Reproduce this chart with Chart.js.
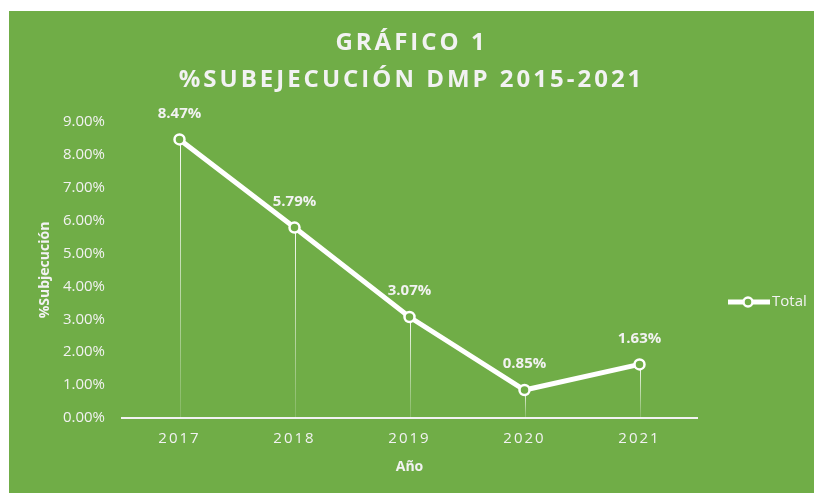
<!DOCTYPE html>
<html>
<head>
<meta charset="utf-8">
<script src="https://cdn.jsdelivr.net/npm/chart.js@4.4.1/dist/chart.umd.min.js"></script>
<style>
  html, body { margin: 0; padding: 0; background: #ffffff; }
  #wrap { position: absolute; left: 9px; top: 11px; width: 805px; height: 482px; background: #70ad47; }
</style>
</head>
<body>
<div id="wrap"><canvas id="chart" width="805" height="482"></canvas></div>
<script>
// data
const years = ['2017', '2018', '2019', '2020', '2021'];
const subejecucion = [0.0847, 0.0579, 0.0307, 0.0085, 0.0163];
const seriesName = 'Total';

const GREEN = '#70ad47';
const TEXT = '#f2f2f2';
const FONT = '"Open Sans", "Noto Sans", sans-serif';

function pct(v) {
    return (v * 100).toFixed(2) + '%';
}

// run a draw function with some letter spacing (Excel title / category labels are spaced out)
function spaced(obj, name, spacing) {
    const orig = obj[name];
    obj[name] = function () {
        const ctx = this.ctx || this.chart.ctx;
        ctx.save();
        ctx.letterSpacing = spacing;
        orig.apply(this, arguments);
        ctx.restore();
    };
}

const letterSpacing = {
    id: 'letterSpacing',
    beforeDraw(chart) {
        if (chart._spacedDone) return;
        chart._spacedDone = true;
        if (chart.titleBlock) spaced(chart.titleBlock, 'draw', '3px');
        spaced(chart.scales.x, 'drawLabels', '2px');
    }
};

// thin fading lines from each point down to the category axis (Excel "drop lines")
const dropLines = {
    id: 'dropLines',
    beforeDatasetsDraw(chart) {
        const ctx = chart.ctx;
        const bottom = chart.scales.y.getPixelForValue(0);
        chart.getDatasetMeta(0).data.forEach(pt => {
            const grad = ctx.createLinearGradient(0, pt.y, 0, bottom);
            grad.addColorStop(0, 'rgba(255,255,255,0.95)');
            grad.addColorStop(1, 'rgba(255,255,255,0.15)');
            ctx.save();
            ctx.strokeStyle = grad;
            ctx.lineWidth = 1;
            ctx.beginPath();
            ctx.moveTo(Math.round(pt.x) + 0.5, pt.y);
            ctx.lineTo(Math.round(pt.x) + 0.5, bottom);
            ctx.stroke();
            ctx.restore();
        });
    }
};

// value labels above each point
const valueLabels = {
    id: 'valueLabels',
    afterDatasetsDraw(chart) {
        const ctx = chart.ctx;
        const values = chart.data.datasets[0].data;
        ctx.save();
        ctx.fillStyle = TEXT;
        ctx.font = 'bold 15px ' + FONT;
        ctx.textAlign = 'center';
        ctx.textBaseline = 'middle';
        chart.getDatasetMeta(0).data.forEach((pt, i) => {
            ctx.fillText(pct(values[i]), pt.x, pt.y - 26);
        });
        ctx.restore();
    }
};

// legend on the right, as its own layout box so the title still spans the full width
const sideLegend = {
    id: 'sideLegend',
    beforeInit(chart) {
        const box = {
            position: 'right',
            fullSize: false,
            weight: 0,
            options: {},
            isHorizontal() { return false; },
            update(maxWidth, maxHeight) {
                this.width = 117;
                this.height = maxHeight;
            },
            draw() {
                const ctx = chart.ctx;
                const ds = chart.data.datasets[0];
                const x0 = this.left + 31;
                const y = this.top + 180;
                ctx.save();
                ctx.strokeStyle = ds.borderColor;
                ctx.lineWidth = 5;
                ctx.beginPath();
                ctx.moveTo(x0, y);
                ctx.lineTo(x0 + 42, y);
                ctx.stroke();
                ctx.beginPath();
                ctx.arc(x0 + 20, y, 4.5, 0, Math.PI * 2);
                ctx.fillStyle = ds.pointBackgroundColor;
                ctx.fill();
                ctx.lineWidth = 2.5;
                ctx.stroke();
                ctx.fillStyle = TEXT;
                ctx.font = '15px ' + FONT;
                ctx.textAlign = 'left';
                ctx.textBaseline = 'middle';
                ctx.fillText(ds.label, x0 + 44, y);
                ctx.restore();
            }
        };
        Chart.layouts.addBox(chart, box);
    }
};

new Chart(document.getElementById('chart'), {
    type: 'line',
    data: {
        labels: years,
        datasets: [{
            label: seriesName,
            data: subejecucion,
            borderColor: '#ffffff',
            borderWidth: 5,
            pointRadius: 5,
            pointBorderWidth: 2.5,
            pointBackgroundColor: GREEN,
            pointBorderColor: '#ffffff',
            tension: 0,
            clip: false
        }]
    },
    options: {
        responsive: false,
        animation: false,
        layout: { padding: 0 },
        plugins: {
            legend: { display: false },
            tooltip: { enabled: false },
            title: {
                display: true,
                text: ['GRÁFICO 1', '%SUBEJECUCIÓN DMP 2015-2021'],
                color: TEXT,
                font: { family: FONT, size: 24, weight: 'bold', lineHeight: 1.52 },
                padding: { top: 14, bottom: 24 }
            }
        },
        scales: {
            x: {
                offset: true,
                grid: { display: false, drawTicks: false },
                border: { display: true, color: TEXT, width: 2 },
                ticks: { color: TEXT, font: { family: FONT, size: 15 }, padding: 12 },
                title: {
                    display: true,
                    text: 'Año',
                    color: TEXT,
                    font: { family: FONT, size: 14, weight: 'bold' },
                    padding: { top: 8, bottom: 17.5 }
                },
                afterFit(scale) { scale.height = 75; }
            },
            y: {
                min: 0,
                max: 0.09,
                grid: { display: false, drawTicks: false },
                border: { display: false },
                ticks: {
                    stepSize: 0.01,
                    color: TEXT,
                    font: { family: FONT, size: 15 },
                    padding: 17,
                    callback: v => pct(v)
                },
                title: {
                    display: true,
                    text: '%Subjecución',
                    color: TEXT,
                    font: { family: FONT, size: 14, weight: 'bold' },
                    padding: { top: 28, bottom: 0 }
                },
                afterFit(scale) { scale.width = 113; }
            }
        }
    },
    plugins: [sideLegend, letterSpacing, dropLines, valueLabels]
});
</script>
</body>
</html>
